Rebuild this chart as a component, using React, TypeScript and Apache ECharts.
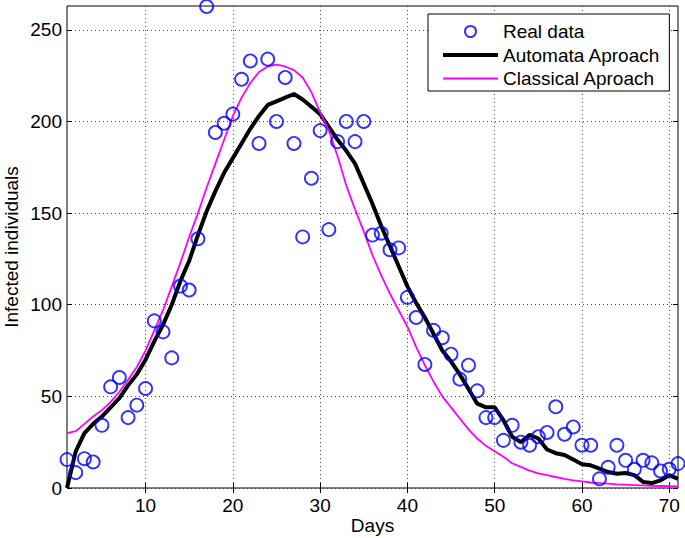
import React, { useEffect, useRef } from "react";
import * as echarts from "echarts";

const days: number[] = Array.from({ length: 71 }, (_, i) => i + 1);

const realData: number[] = [
  15.5, 8.4, 16, 14.2, 34.2, 55.2, 60.3, 38.4, 45.2, 54.3,
  91.2, 85.2, 71, 110.2, 108, 136, 262.7, 194, 199, 204,
  223, 233, 188, 234, 200, 224, 188, 137, 169, 195,
  141, 189, 200, 189, 200, 138, 139, 130, 131, 104,
  93, 67.4, 86, 82, 73, 59.4, 67, 53, 38.4, 38.4,
  26, 34.2, 25, 23.3, 28, 30.3, 44.3, 29.3, 33.3, 23.3,
  23.3, 5, 11.3, 23.3, 15.1, 10.2, 15.1, 13.7, 9.3, 10.2,
  13.3,
];

const automata: number[] = [
  0, 20, 30, 35, 39, 44, 49, 56, 62, 70,
  80, 89, 100, 113, 124, 138, 151, 162, 172, 180,
  188, 196, 203, 209, 211, 213, 215, 212, 208, 204,
  197, 190, 184, 177, 166, 155, 143, 132, 121, 110,
  101, 93, 84, 75, 69, 62, 54, 46, 44, 44,
  37, 28, 25, 29, 27, 21, 19, 18, 15.5, 13,
  12.4, 10.6, 8.7, 7.8, 8.2, 7, 3.3, 2.7, 4.2, 7,
  5,
];

const classical: number[] = [
  30, 31, 35, 39, 42.5, 47, 52.5, 59, 66, 75,
  86, 97, 110, 123, 137, 150, 164, 177, 190, 203,
  213, 221, 227, 230, 231, 230, 228, 224, 216, 205,
  195, 181, 165, 152, 140, 127, 116, 106, 97, 88,
  77, 67, 58, 50, 44, 38, 32, 27, 23, 20,
  17, 13.5, 11.5, 9.5, 8, 7, 6, 5, 4.2, 3.6,
  3, 2.7, 2.4, 2, 1.8, 1.6, 1.4, 1.2, 1.1, 1,
  0.9,
];

const xTicks = [10, 20, 30, 40, 50, 60, 70];
const yTicks = [0, 50, 100, 150, 200, 250];

const FONT = "'Liberation Sans', Arial, Helvetica, sans-serif";
const FS = 19;

export default function App() {
  const ref = useRef<HTMLDivElement>(null);
  useEffect(() => {
    if (!ref.current) return;
    const chart = echarts.init(ref.current, undefined, { renderer: "svg" });
    const pair = (arr: number[]) => arr.map((v, i) => [days[i], v]);
    const gridLine = { show: true, lineStyle: { color: "#444", width: 1, type: [1, 3] as any } };
    const labelStyle = { color: "#000", fontSize: FS, fontFamily: FONT };
    chart.setOption({
      animation: false,
      backgroundColor: "#fff",
      grid: {
        left: 67, right: 7, top: 6, bottom: 50,
        containLabel: false, outerBoundsMode: "none",
        show: true, borderColor: "#000", borderWidth: 1, backgroundColor: "transparent",
      },
      xAxis: [
        {
          type: "value", min: 1, max: 71,
          axisLine: { show: false },
          axisTick: { show: true, inside: true, length: 5, lineStyle: { color: "#000" }, customValues: xTicks },
          axisLabel: { ...labelStyle, margin: 8, customValues: xTicks },
          splitLine: gridLine,
          name: "Days", nameLocation: "middle", nameGap: 28, nameMoveOverlap: false,
          nameTextStyle: { color: "#000", fontSize: FS, fontFamily: FONT },
        },
        {
          type: "value", min: 1, max: 71, position: "top",
          axisLine: { show: false },
          axisTick: { show: true, inside: true, length: 5, lineStyle: { color: "#000" }, customValues: xTicks },
          axisLabel: { show: false },
          splitLine: { show: false },
        },
      ],
      yAxis: [
        {
          type: "value", min: 0, max: 263,
          axisLine: { show: false },
          axisTick: { show: true, inside: true, length: 5, lineStyle: { color: "#000" }, customValues: yTicks },
          axisLabel: { ...labelStyle, margin: 5, customValues: yTicks },
          splitLine: gridLine,
          name: "Infected individuals", nameLocation: "middle", nameGap: 46, nameMoveOverlap: false,
          nameTextStyle: { color: "#000", fontSize: FS, fontFamily: FONT },
        },
        {
          type: "value", min: 0, max: 263, position: "right",
          axisLine: { show: false },
          axisTick: { show: true, inside: true, length: 5, lineStyle: { color: "#000" }, customValues: yTicks },
          axisLabel: { show: false },
          splitLine: { show: false },
        },
      ],
      legend: {
        orient: "vertical",
        left: 428,
        top: 14,
        backgroundColor: "#fff",
        borderColor: "#000",
        borderWidth: 1,
        borderRadius: 0,
        padding: [8, 9, 3, 13],
        itemWidth: 55,
        itemHeight: 11,
        itemGap: 4.5,
        textStyle: { color: "#000", fontSize: FS, fontFamily: FONT },
        data: [
          { name: "Real data", icon: "circle", itemStyle: { color: "transparent", borderColor: "#0000ff", borderWidth: 2 } },
          { name: "Automata Aproach", itemStyle: { opacity: 0 }, lineStyle: { color: "#000", width: 4 } },
          { name: "Classical Aproach", itemStyle: { opacity: 0 }, lineStyle: { color: "#ff00ff", width: 1.8 } },
        ],
      },
      series: [
        {
          name: "Real data",
          type: "scatter",
          data: pair(realData),
          symbol: "circle",
          symbolSize: 13,
          itemStyle: { color: "transparent", borderColor: "#0000ff", borderWidth: 1.9 },
          z: 3,
        },
        {
          name: "Automata Aproach",
          type: "line",
          data: pair(automata),
          showSymbol: false,
          symbol: "none",
          lineStyle: { color: "#000", width: 4 },
          itemStyle: { color: "#000" },
          z: 2,
        },
        {
          name: "Classical Aproach",
          type: "line",
          data: pair(classical),
          showSymbol: false,
          symbol: "none",
          lineStyle: { color: "#ff00ff", width: 1.8 },
          itemStyle: { color: "#ff00ff" },
          z: 2,
        },
      ],
    });
    return () => chart.dispose();
  }, []);
  return (
    <div
      ref={ref}
      style={{ position: "fixed", left: 0, top: 0, width: 685, height: 538 }}
    />
  );
}
